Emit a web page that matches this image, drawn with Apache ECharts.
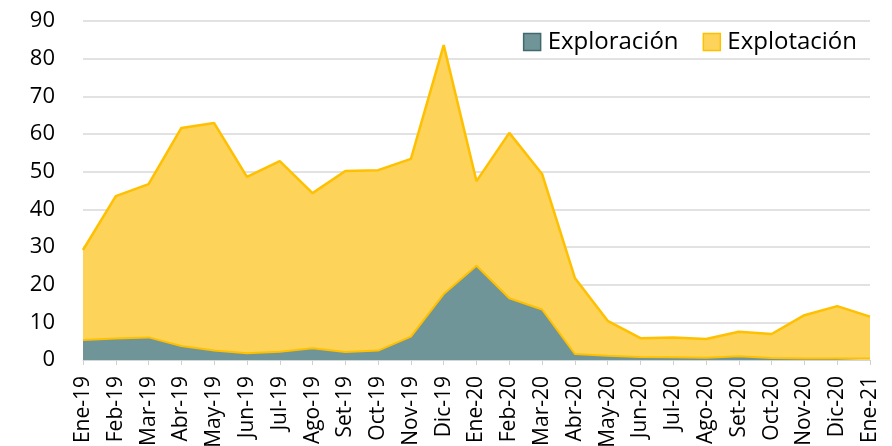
<!DOCTYPE html>
<html><head><meta charset="utf-8">
<script src="https://cdn.jsdelivr.net/npm/echarts@6/dist/echarts.min.js"></script>
<style>html,body{margin:0;padding:0;background:#fff}#c{width:892px;height:446px}</style>
</head><body><div id="c"></div>
<script>
const categories = ["Ene-19","Feb-19","Mar-19","Abr-19","May-19","Jun-19","Jul-19","Ago-19","Set-19","Oct-19","Nov-19","Dic-19","Ene-20","Feb-20","Mar-20","Abr-20","May-20","Jun-20","Jul-20","Ago-20","Set-20","Oct-20","Nov-20","Dic-20","Ene-21"];
const exploracion = [5.3,5.7,6.0,3.7,2.5,1.8,2.2,3.1,2.1,2.5,6.2,17.5,25.0,16.4,13.4,1.6,1.1,0.8,0.7,0.6,1.0,0.5,0.4,0.4,0.4];
const explotacion = [23.9,37.8,40.7,57.9,60.4,46.8,50.6,41.2,48.1,47.9,47.2,66.1,22.5,43.9,36.0,20.2,9.3,5.0,5.3,5.0,6.5,6.4,11.5,13.9,11.1];
const yTicks = [0,10,20,30,40,50,60,70,80,90];

const FONT = 'Open Sans';
const chart = echarts.init(document.getElementById('c'), null, {renderer:'canvas'});
chart.setOption({
  animation: false,
  backgroundColor: '#ffffff',
  textStyle: {fontFamily: FONT},
  grid: {left: 83, right: 22, top: 21, bottom: 86, containLabel: false, outerBoundsMode: 'none'},
  legend: {
    right: 30, top: 25,
    itemWidth: 17, itemHeight: 17, itemGap: 24,
    textStyle: {fontFamily: FONT, fontSize: 24, color: '#000', padding: [0,0,0,2]},
    data: [
      {name: 'Exploración', icon: 'rect', itemStyle: {color: '#6f9598', borderColor: '#41686d', borderWidth: 1.5}},
      {name: 'Explotación', icon: 'rect', itemStyle: {color: '#fdd35a', borderColor: '#ffc000', borderWidth: 1.5}}
    ]
  },
  xAxis: {
    type: 'category', data: categories, boundaryGap: false,
    axisLine: {show: true, lineStyle: {color: '#d0d7d8', width: 1}},
    axisTick: {show: true, alignWithLabel: true, length: 5, lineStyle: {color: '#d0d0d0'}},
    axisLabel: {rotate: 90, interval: 0, margin: 16, fontFamily: FONT, fontSize: 21, color: '#000'},
    splitLine: {show: false}
  },
  yAxis: {
    type: 'value', min: yTicks[0], max: yTicks[yTicks.length-1], interval: 10,
    axisLine: {show: false}, axisTick: {show: false},
    axisLabel: {margin: 28, fontFamily: FONT, fontSize: 22, color: '#000'},
    splitLine: {lineStyle: {color: '#d9d9d9', width: 1.5}}
  },
  series: [
    {name: 'Exploración', type: 'line', stack: 'total', data: exploracion, symbol: 'none',
     lineStyle: {color: '#ffc000', width: 2}, itemStyle: {color: '#6f9598'},
     areaStyle: {color: '#6f9598', opacity: 1}, z: 3},
    {name: 'Explotación', type: 'line', stack: 'total', data: explotacion, symbol: 'none',
     lineStyle: {color: '#ffc000', width: 2.5}, itemStyle: {color: '#fdd35a'},
     areaStyle: {color: '#fdd35a', opacity: 1}, z: 2}
  ]
});
</script></body></html>
